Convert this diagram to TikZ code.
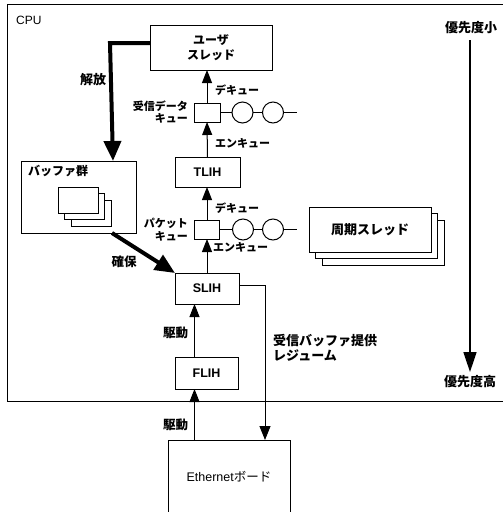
\documentclass[tikz,border=0pt]{standalone}
\usepackage{fontspec}
\setmainfont{Liberation Sans}
\newfontfamily\jp{Noto Sans CJK JP}
\usetikzlibrary{arrows.meta}
\begin{document}
\begin{tikzpicture}[x=1pt,y=-1pt,
  box/.style={draw,line width=1pt,inner sep=0pt,outer sep=0pt,align=center},
  pagebox/.style={draw,line width=1pt,fill=white,inner sep=0pt,outer sep=0pt},
  jlab/.style={font=\jp\bfseries\fontsize{13}{15}\selectfont,inner sep=0pt},
  qlab/.style={font=\jp\bfseries\fontsize{11}{12}\selectfont,inner sep=0pt},
  latin/.style={font=\bfseries\fontsize{12.5}{14}\selectfont},
  qcirc/.style={draw,line width=1pt,circle,minimum size=21pt,inner sep=0pt,outer sep=0pt},
  tarr/.style={line width=1pt,-{Triangle[length=13pt,width=10pt]}},
  thinarr/.style={line width=0.8pt,-{Triangle[length=14pt,width=11pt]}},
  bigarr/.style={line width=4pt,-{Triangle[length=20pt,width=17pt]}},
  parr/.style={line width=1.6pt,-{Triangle[length=20pt,width=13pt]}}
]
\useasboundingbox (0,0) rectangle (503,512);

% CPU frame
\draw[line width=1pt] (504,4) -- (7,4) -- (7,401) -- (504,401);
\node[anchor=west,font=\fontsize{12}{14}\selectfont,inner sep=0pt] (cpu) at (16,20) {CPU};

% coordinates for offset connectors
\coordinate (fx) at (194.5,0);
\coordinate (rx) at (265,0);
\coordinate (rel) at (113,0);
\coordinate (px) at (470,0);

% main nodes
\node[box,minimum width=122pt,minimum height=45pt,font=\jp\bfseries\fontsize{12}{15}\selectfont] (user) at (211,47.5) {ユーザ\\スレッド};
\node[box,minimum width=26pt,minimum height=19pt] (dq) at (207,112.5) {};
\node[box,minimum width=65pt,minimum height=30pt,latin] (tlih) at (207.5,172) {TLIH};
\node[box,minimum width=25pt,minimum height=19pt] (pq) at (207,229.5) {};
\node[box,minimum width=64pt,minimum height=31pt,latin] (slih) at (207,288.5) {SLIH};
\node[box,minimum width=63pt,minimum height=32pt,latin] (flih) at (206.5,373) {FLIH};
\node[box,minimum width=122pt,minimum height=74pt,font=\fontsize{12.5}{14}\selectfont] (eth) at (229,477) {Ethernet{\jp ボード}};

% buffer group
\node[box,minimum width=115pt,minimum height=72pt] (buf) at (78.5,197) {};
\node[qlab,font=\jp\bfseries\fontsize{12}{13}\selectfont,anchor=west] (buft) at (28,171) {バッファ群};
\node[pagebox,minimum width=40pt,minimum height=26pt] (bp3) at (91,213) {};
\node[pagebox,minimum width=40pt,minimum height=26pt] (bp2) at (84.5,206.5) {};
\node[pagebox,minimum width=40pt,minimum height=26pt] (bp1) at (78,200) {};

% periodic threads
\node[pagebox,minimum width=122pt,minimum height=45pt] (pt3) at (383,242.5) {};
\node[pagebox,minimum width=122pt,minimum height=45pt] (pt2) at (376.5,236) {};
\node[pagebox,minimum width=122pt,minimum height=45pt,font=\jp\bfseries\fontsize{13}{15}\selectfont] (pt1) at (370,229.5) {周期スレッド};

% queues
\node[qcirc] (c1) at (242.5,112.5) {};
\node[qcirc] (c2) at (273,112.5) {};
\coordinate (qe1) at (297,112.5);
\draw[line width=1pt] (dq.east) -- (c1.west) (c1.east) -- (c2.west) (c2.east) -- (qe1);
\node[qcirc] (c3) at (243,229.5) {};
\node[qcirc] (c4) at (273,229.5) {};
\coordinate (qe2) at (297,229.5);
\draw[line width=1pt] (pq.east) -- (c3.west) (c3.east) -- (c4.west) (c4.east) -- (qe2);

% queue labels
\node[qlab,align=right,anchor=east] (dql) at (188,112.5) {受信データ\\キュー};
\node[qlab,anchor=west] (deq1) at (215,90) {デキュー};
\node[qlab,anchor=west] (enq1) at (215,143) {エンキュー};
\node[qlab,align=right,anchor=east,font=\jp\bfseries\fontsize{11}{13}\selectfont] (pql) at (188,229.5) {パケット\\キュー};
\node[qlab,anchor=west] (deq2) at (215,208) {デキュー};
\node[qlab,anchor=west] (enq2) at (213,247) {エンキュー};

% vertical flow arrows
\draw[tarr] (dq.north) -- (dq.north |- user.south);
\draw[tarr] (tlih.north) -- (dq.south);
\draw[tarr] (pq.north) -- (pq.north |- tlih.south);
\draw[tarr] (slih.north) -- (pq.south);
\draw[tarr] (fx |- flih.north) -- (fx |- slih.south);
\draw[tarr] (fx |- eth.north) -- (fx |- flih.south);
\node[jlab,font=\jp\bfseries\fontsize{12.5}{14}\selectfont] (kd1) at (175.5,333) {駆動};
\node[jlab,font=\jp\bfseries\fontsize{12.5}{14}\selectfont] (kd2) at (175.5,425) {駆動};

% resume arrow to Ethernet board
\draw[thinarr] ([yshift=3.5pt]slih.east) -| (rx |- eth.north);
\node[jlab,align=left,anchor=west] (res) at (273,347.5) {受信バッファ提供\\レジューム};

% release / secure thick arrows
\draw[bigarr] ([yshift=4.5pt]user.west) -- ([yshift=4.5pt,xshift=-3pt]rel |- user.west) -- (rel |- buf.north);
\node[jlab] (kaiho) at (93,80) {解放};
\draw[bigarr] ([xshift=33.5pt]buf.south) -- (slih.north west);
\node[jlab,font=\jp\bfseries\fontsize{12.5}{14}\selectfont] (kakuho) at (124,262) {確保};

% priority
\node[jlab] (plo) at (471,28) {優先度小};
\node[jlab] (phi) at (470,382) {優先度高};
\draw[parr] (px |- 0,40) -- (px |- 0,372);
\end{tikzpicture}
\end{document}
